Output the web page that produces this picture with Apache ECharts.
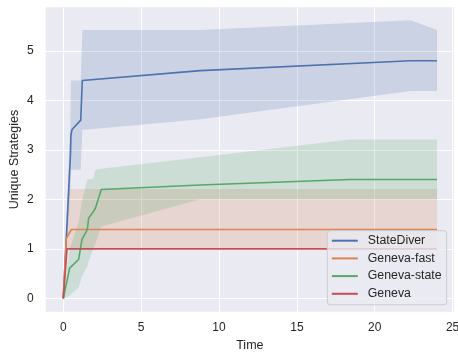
<!DOCTYPE html>
<html>
<head>
<meta charset="utf-8">
<script src="https://cdn.jsdelivr.net/npm/echarts@6/dist/echarts.min.js"></script>
<style>html,body{margin:0;padding:0;background:#fff}#c{width:458px;height:353px}</style>
</head>
<body>
<div id="c"></div>
<script>
// ---- data ----
const xTicks = [0, 5, 10, 15, 20, 25];
const yTicks = [0, 1, 2, 3, 4, 5];

const sdX    = [0, 0.46, 0.49, 0.56, 1.12, 1.22, 8.8, 22.3, 24];
const sdMean = [0, 2.9, 3.3, 3.41, 3.6, 4.4, 4.6, 4.8, 4.8];
const sdLo   = [0, 2.2, 2.6, 2.6, 2.6, 3.4, 3.62, 4.19, 4.19];
const sdHi   = [0, 3.6, 4.4, 4.4, 4.4, 5.42, 5.42, 5.62, 5.42];

const gfX    = [0, 0.19, 0.41, 0.51, 24];
const gfMean = [0, 1.21, 1.33, 1.39, 1.39];
const gfLo   = [0, 1.0, 1.0, 1.0, 1.0];
const gfHi   = [0, 1.4, 2.21, 2.21, 2.21];

const gsX    = [0, 0.41, 0.99, 1.2, 1.54, 1.63, 1.93, 2.06, 2.44, 8.8, 18.4, 24];
const gsMean = [0, 0.61, 0.79, 1.19, 1.39, 1.62, 1.75, 1.82, 2.2, 2.29, 2.4, 2.4];
const gsLo   = [0, 0.05, 0.22, 0.45, 0.65, 0.75, 1.0, 1.1, 1.45, 2.0, 2.0, 2.0];
const gsHi   = [0, 1.0, 1.55, 1.95, 2.4, 2.41, 2.41, 2.6, 2.62, 2.85, 3.21, 3.21];

const gX    = [0, 0.24, 24];
const gMean = [0, 1.0, 1.0];

const names  = ['StateDiver', 'Geneva-fast', 'Geneva-state', 'Geneva'];
const colors = ['#4C72B0', '#DD8452', '#55A868', '#C44E52'];

// ---- build ----
const zip = (xs, ys) => xs.map((x, i) => [x, ys[i]]);
const FONT = 'Liberation Sans, Arial, sans-serif';

function band(xs, lo, hi, color) {
  const data = xs.map((x, i) => [x, lo[i], hi[i]]);
  return {
    type: 'custom', silent: true, z: 1,
    data: data,
    encode: { x: 0, y: [1, 2] },
    renderItem: function (params, api) {
      if (params.dataIndex !== 0) return null;
      const top = data.map(d => api.coord([d[0], d[2]]));
      const bot = data.slice().reverse().map(d => api.coord([d[0], d[1]]));
      return {
        type: 'polygon',
        shape: { points: top.concat(bot) },
        style: { fill: color, opacity: 0.2 }
      };
    }
  };
}
function line(name, xs, ys, color) {
  return { name: name, type: 'line', data: zip(xs, ys), symbol: 'none', color: color,
    lineStyle: { width: 1.6, color: color }, z: 3 };
}

const series = [
  band(sdX, sdLo, sdHi, colors[0]),
  band(gfX, gfLo, gfHi, colors[1]),
  band(gsX, gsLo, gsHi, colors[2]),
  line(names[0], sdX, sdMean, colors[0]),
  line(names[1], gfX, gfMean, colors[1]),
  line(names[2], gsX, gsMean, colors[2]),
  line(names[3], gX, gMean, colors[3])
];

const chart = echarts.init(document.getElementById('c'), null, { renderer: 'canvas' });
chart.setOption({
  animation: false,
  textStyle: { fontFamily: FONT },
  grid: { left: 45.7, right: 4, top: 7.3, bottom: 41.3, show: true, backgroundColor: '#EAEAF2', borderWidth: 0,
          containLabel: false, outerBoundsMode: 'none' },
  xAxis: {
    type: 'value', min: -1.13, max: 25.09,
    name: 'Time', nameLocation: 'middle', nameGap: 27.5, nameMoveOverlap: false,
    nameTextStyle: { fontSize: 12.5, color: '#262626', fontFamily: FONT },
    axisLine: { show: false },
    axisTick: { show: false, customValues: xTicks },
    axisLabel: { customValues: xTicks, fontSize: 12, color: '#262626', margin: 10, fontFamily: FONT },
    splitLine: { show: true, lineStyle: { color: '#ffffff', width: 1 } }
  },
  yAxis: {
    type: 'value', min: -0.27, max: 5.88,
    name: 'Unique Strategies', nameLocation: 'middle', nameGap: 25, nameMoveOverlap: false,
    nameTextStyle: { fontSize: 12.5, color: '#262626', fontFamily: FONT },
    axisLine: { show: false },
    axisTick: { show: false, customValues: yTicks },
    axisLabel: { customValues: yTicks, fontSize: 12, color: '#262626', margin: 12, fontFamily: FONT },
    splitLine: { show: true, lineStyle: { color: '#ffffff', width: 1 } }
  },
  legend: {
    data: names,
    orient: 'vertical',
    left: 327.3, top: 230.7,
    icon: 'rect', itemWidth: 26, itemHeight: 2, itemGap: 3.7,
    padding: [3, 5, 4, 4.5],
    backgroundColor: 'rgba(234,234,242,0.8)',
    borderColor: '#cccccc', borderWidth: 1, borderRadius: 3,
    textStyle: { fontSize: 12.3, color: '#262626', fontFamily: FONT, lineHeight: 14, padding: [0, 0, 0, 5] }
  },
  series: series
});
</script>
</body>
</html>
